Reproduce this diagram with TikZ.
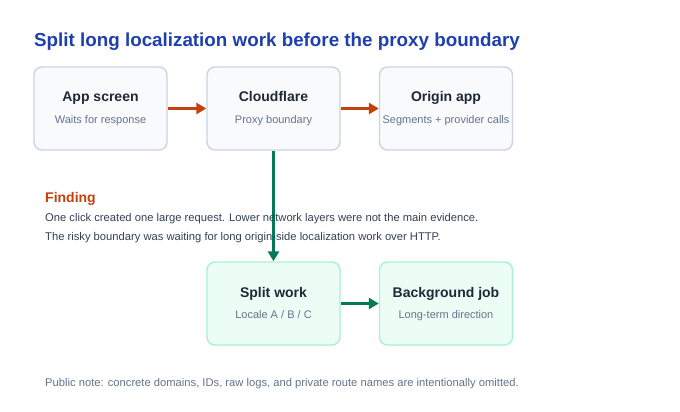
\documentclass[tikz,border=0pt]{standalone}
\usepackage{fontspec}
\setmainfont{Liberation Sans}
\usetikzlibrary{arrows.meta,positioning}

\definecolor{titleblue}{HTML}{1E40AF}
\definecolor{findorange}{HTML}{C2410C}
\definecolor{flowgreen}{HTML}{047857}
\definecolor{boxgray}{HTML}{F8FAFC}
\definecolor{edgegray}{HTML}{CBD5E1}
\definecolor{boxmint}{HTML}{ECFDF5}
\definecolor{edgemint}{HTML}{A7F3D0}
\definecolor{inkdark}{HTML}{1F2937}
\definecolor{inkbody}{HTML}{334155}
\definecolor{inksoft}{HTML}{64748B}

\tikzset{
  stage/.style={draw=edgegray, fill=boxgray, line width=1.4pt, rounded corners=8pt,
    minimum width=133pt, minimum height=83pt, inner sep=0pt},
  fixstage/.style={stage, draw=edgemint, fill=boxmint},
  stagename/.style={font=\fontsize{14}{16}\selectfont\bfseries, text=inkdark, inner sep=0pt, anchor=base},
  stagenote/.style={font=\fontsize{11}{13}\selectfont, text=inksoft, inner sep=0pt, anchor=base},
  hop/.style={line width=2.5pt, draw=findorange, -{Triangle[length=10pt,width=11pt]}},
  fixhop/.style={hop, draw=flowgreen},
  bodytext/.style={font=\fontsize{11.2}{13}\selectfont, text=inkbody, anchor=base west, inner sep=0pt}
}

\begin{document}
\begin{tikzpicture}[x=1pt,y=-1pt]
    \useasboundingbox[fill=white] (0,0) rectangle (680,412);

    \node[anchor=base west, inner sep=0pt, text=titleblue, font=\fontsize{18.8}{22}\selectfont\bfseries] (title) at (34,47) {Split long localization work before the proxy boundary};

    % request path
    \node[stage] (app) at (100.5,108.5) {};
    \node[stage] (cloudflare) at (273.5,108.5) {};
    \node[stage] (origin) at (446,108.5) {};

    \node[stagename] (appname) at (100.5,102) {App screen};
    \node[stagenote] (appnote) at (100.5,123) {Waits for response};
    \node[stagename] (cfname) at (273.5,102) {Cloudflare};
    \node[stagenote] (cfnote) at (273.5,123) {Proxy boundary};
    \node[stagename] (originname) at (446,102) {Origin app};
    \node[stagenote] (originnote) at (446,123) {Segments + provider calls};

    % fix path
    \node[fixstage] (split) at (273.5,303.5) {};
    \node[fixstage] (background) at (446,303.5) {};

    \node[stagename] (splitname) at (273.5,297) {Split work};
    \node[stagenote] (splitnote) at (273.5,318) {Locale A / B / C};
    \node[stagename] (bgname) at (446,297) {Background job};
    \node[stagenote] (bgnote) at (446,318) {Long-term direction};

    \draw[hop] (app) -- (cloudflare);
    \draw[hop] (cloudflare) -- (origin);
    \draw[fixhop] (cloudflare) -- (split);
    \draw[fixhop] (split) -- (background);

    \node[anchor=base west, inner sep=0pt, text=findorange, font=\fontsize{14}{16}\selectfont\bfseries] (finding) at (45,202) {Finding};
    \node[bodytext] (lineone) at (45,221) {One click created one large request. Lower network layers were not the main evidence.};
    \node[bodytext] (linetwo) at (45,240) {The risky boundary was waiting for long origin-side localization work over HTTP.};

    \node[bodytext, text=inksoft] (note) at (45,386) {Public note: concrete domains, IDs, raw logs, and private route names are intentionally omitted.};
\end{tikzpicture}
\end{document}
